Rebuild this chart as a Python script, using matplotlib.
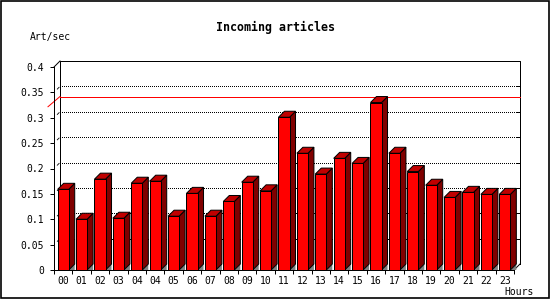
import numpy as np
import matplotlib
matplotlib.use("Agg")
import matplotlib.pyplot as plt
from matplotlib.patches import Polygon, Rectangle

# data
hours = ["00", "01", "02", "03", "04", "04", "05", "06", "07", "08", "09", "10",
         "11", "12", "13", "14", "15", "16", "17", "18", "19", "20", "21", "22", "23"]
rate = [0.159, 0.100, 0.179, 0.102, 0.171, 0.175, 0.106, 0.151, 0.106, 0.135,
        0.173, 0.156, 0.301, 0.230, 0.189, 0.220, 0.210, 0.330, 0.230, 0.194,
        0.167, 0.143, 0.153, 0.149, 0.149]
yticks = [0, 0.05, 0.1, 0.15, 0.2, 0.25, 0.3, 0.35, 0.4]
grid_vals = [0.05, 0.1, 0.15, 0.2, 0.25, 0.3, 0.35]

plt.rcParams['font.family'] = ['DejaVu Sans Mono']

W, H = 550, 300
fig = plt.figure(figsize=(W / 100, H / 100), dpi=100)

ax_l, ax_b, ax_w, ax_h = 54, 30, 460, 203
ax = fig.add_axes([ax_l / W, ax_b / H, ax_w / W, ax_h / H])
n = len(rate)
ymax = 0.4
ax.set_xlim(0, n)
ax.set_ylim(0, ymax)

# 3d depth in data units (6 px)
dx = 6 * n / ax_w
dy = 6 * ymax / ax_h
px = 1 * n / ax_w
lw = 0.72

# back plane
ax.add_patch(Rectangle((dx, dy), n, ymax, facecolor="white", edgecolor="none",
                       clip_on=False, zorder=0))
ax.plot([dx, dx, n + dx, n + dx], [dy, ymax + dy, ymax + dy, dy], color="black",
        lw=lw, clip_on=False, zorder=1)
ax.plot([0, dx], [ymax, ymax + dy], color="black", lw=lw, clip_on=False, zorder=1)
ax.plot([n, n + dx], [0, dy], color="black", lw=lw, clip_on=False, zorder=1)

for v in grid_vals:
    ax.plot([dx, n + dx], [v + dy, v + dy], color="black", lw=lw,
            linestyle=(0, (1, 2)), antialiased=False, clip_on=False, zorder=1)
    ax.plot([dx * 0.55, dx * 0.85], [v + dy * 0.55, v + dy * 0.85], color="black",
            lw=0.6, clip_on=False, zorder=1)
    ax.plot([n + dx - 3 * px, n + dx], [v + dy, v + dy], color="black", lw=lw,
            clip_on=False, zorder=1)

# max line
m = max(rate)
ax.plot([dx, n + dx], [m + dy, m + dy], color="red", lw=lw, antialiased=False,
        clip_on=False, zorder=2)
ax.plot([-dx, dx], [m - dy * 0.7, m + dy], color="red", lw=lw, clip_on=False, zorder=2)

# bars
bw = 0.6
for i, v in enumerate(rate):
    x0 = i + 0.5 - bw / 2
    x1 = i + 0.5 + bw / 2
    ax.add_patch(Polygon([(x1, 0), (x1 + dx, dy), (x1 + dx, 0)], closed=True,
                         facecolor="#808080", edgecolor="none", zorder=3,
                         clip_on=False))
    ax.add_patch(Polygon([(x1, 0), (x1 + dx, dy), (x1 + dx, v + dy), (x1, v)],
                         closed=True, facecolor="#800000", edgecolor="black",
                         lw=lw, zorder=4, clip_on=False))
    ax.add_patch(Polygon([(x0, v), (x1, v), (x1 + dx, v + dy), (x0 + dx, v + dy)],
                         closed=True, facecolor="#c00000", edgecolor="black",
                         lw=lw, zorder=4, clip_on=False))
ax.bar(np.arange(n) + 0.5, rate, width=bw, color="#ff0000", edgecolor="black",
       linewidth=lw, zorder=5)

# axes
for s in ["top", "right"]:
    ax.spines[s].set_visible(False)
for s in ["left", "bottom"]:
    ax.spines[s].set_linewidth(lw)
    ax.spines[s].set_zorder(6)
ax.patch.set_visible(False)

ax.set_yticks(yticks)
ax.set_yticklabels(["%g" % t for t in yticks])
ax.tick_params(axis="y", direction="out", length=3, width=lw, pad=4, labelsize=7)

ax.set_xticks(np.arange(n + 1))
ax.set_xticklabels([])
ax.set_xticks(np.arange(n) + 0.5, minor=True)
ax.set_xticklabels(hours, minor=True)
ax.tick_params(axis="x", which="major", direction="out", length=3, width=lw)
ax.tick_params(axis="x", which="minor", length=0, pad=4, labelsize=7)

# texts
fig.text(275 / W, 1 - 27 / H, "Incoming articles", ha="center", va="center",
         fontsize=8.4, fontweight="bold")
fig.text(30 / W, 1 - 37 / H, "Art/sec", ha="left", va="center", fontsize=7)
fig.text(534 / W, 1 - 292 / H, "Hours", ha="right", va="center", fontsize=7)

# outer frame
fig.patches.append(Rectangle((0.5 / W, 2 / H), 548.5 / W, 297.5 / H,
                             transform=fig.transFigure, fill=False,
                             edgecolor="black", lw=1.2))

fig.savefig("out.png", dpi=100)
